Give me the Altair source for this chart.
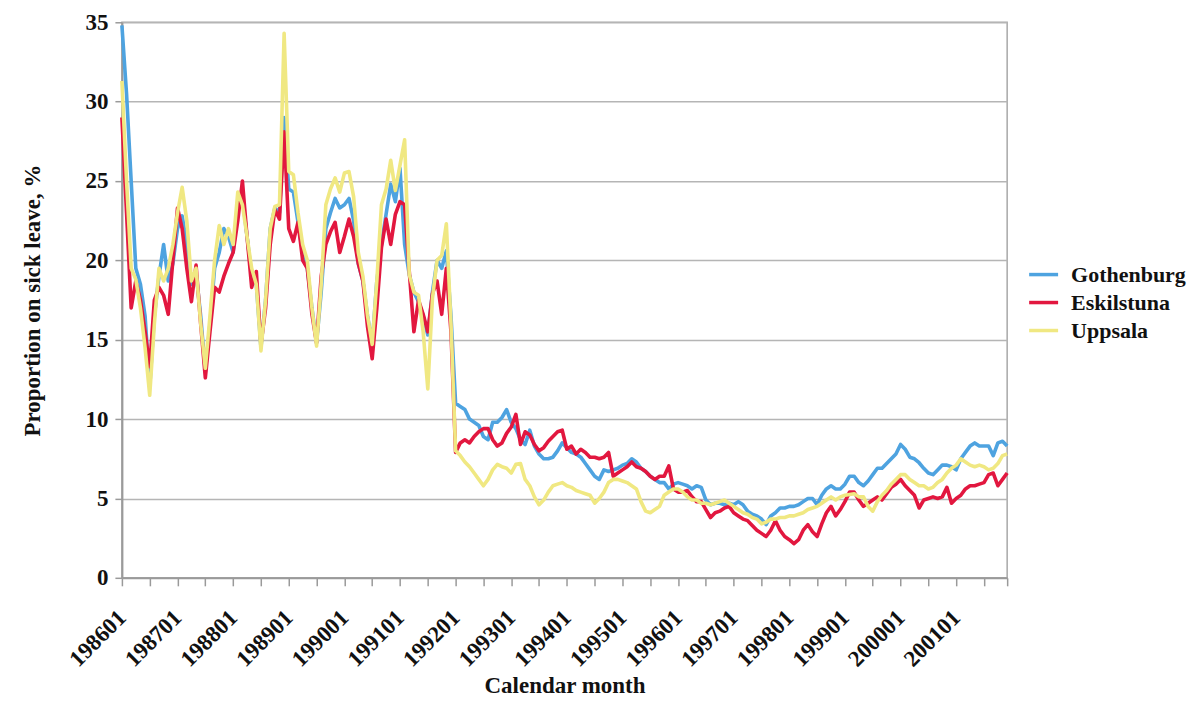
import altair as alt
import pandas as pd

# ---- data (monthly, 198601 .. 200112) ----
years = list(range(1986, 2002))
cities = ["Gothenburg", "Eskilstuna", "Uppsala"]
colors = ["#4ea3e0", "#e2173f", "#f0e882"]

gothenburg = [
    [34.8, 30.5, 25.0, 19.5, 18.5, 16.5, 12.0, 16.5, 19.0, 21.0, 18.7, 19.8],
    [22.0, 22.8, 21.0, 18.5, 19.2, 16.5, 13.0, 16.0, 19.5, 20.5, 22.0, 21.5],
    [20.5, 23.5, 24.0, 21.5, 19.0, 18.5, 14.5, 17.5, 22.0, 23.3, 23.0, 29.0],
    [24.5, 24.3, 22.4, 20.5, 19.5, 17.0, 14.8, 18.0, 22.0, 23.0, 23.9, 23.3],
    [23.5, 23.9, 22.5, 19.8, 18.7, 16.5, 14.7, 18.7, 21.0, 22.9, 24.8, 23.7],
    [25.8, 21.0, 19.1, 18.0, 17.4, 16.5, 15.3, 18.0, 20.0, 19.5, 20.6, 16.5],
    [11.0, 10.8, 10.6, 10.0, 9.8, 9.6, 8.9, 8.7, 9.8, 9.8, 10.1, 10.6],
    [9.8, 9.4, 8.7, 8.4, 9.3, 8.3, 7.8, 7.5, 7.5, 7.6, 8.0, 8.5],
    [8.2, 7.9, 7.8, 7.6, 7.2, 6.8, 6.4, 6.2, 6.8, 6.7, 6.8, 6.9],
    [7.1, 7.2, 7.5, 7.3, 6.9, 6.7, 6.4, 6.2, 6.0, 6.0, 5.6, 5.9],
    [6.0, 5.9, 5.8, 5.6, 5.8, 5.7, 4.9, 4.6, 4.7, 4.7, 4.6, 4.7],
    [4.6, 4.8, 4.6, 4.2, 4.0, 3.9, 3.7, 3.35, 3.9, 4.1, 4.4, 4.4],
    [4.5, 4.5, 4.6, 4.8, 5.0, 5.0, 4.6, 5.2, 5.6, 5.8, 5.6, 5.6],
    [5.9, 6.4, 6.4, 6.0, 5.8, 6.1, 6.5, 6.9, 6.9, 7.2, 7.5, 7.8],
    [8.4, 8.1, 7.6, 7.5, 7.25, 6.9, 6.6, 6.5, 6.8, 7.1, 7.1, 7.0],
    [6.8, 7.5, 7.9, 8.3, 8.5, 8.3, 8.3, 8.3, 7.7, 8.5, 8.6, 8.3],
]

eskilstuna = [
    [29.0, 23.0, 17.0, 18.7, 17.5, 15.5, 13.3, 17.5, 18.3, 17.8, 16.6, 20.0],
    [23.3, 22.0, 19.5, 17.4, 19.7, 16.0, 12.6, 15.5, 18.3, 18.0, 19.0, 19.8],
    [20.5, 22.5, 25.0, 21.5, 18.3, 19.3, 14.7, 17.0, 21.0, 23.2, 22.6, 28.1],
    [22.0, 21.2, 22.4, 20.0, 19.5, 16.6, 14.8, 19.0, 21.0, 21.8, 22.4, 20.5],
    [21.5, 22.6, 21.5, 19.8, 18.7, 15.8, 13.8, 17.0, 20.8, 22.6, 21.0, 22.9],
    [23.7, 23.5, 19.3, 15.5, 17.5, 16.6, 15.5, 17.9, 18.7, 16.6, 19.5, 15.5],
    [7.9, 8.5, 8.7, 8.5, 8.9, 9.2, 9.4, 9.4, 8.7, 8.3, 8.5, 9.1],
    [9.5, 10.3, 8.4, 9.2, 9.0, 8.4, 8.0, 8.2, 8.6, 8.9, 9.2, 9.3],
    [8.1, 8.3, 7.8, 8.1, 7.9, 7.6, 7.6, 7.5, 7.6, 7.9, 6.4, 6.6],
    [6.8, 7.0, 7.3, 7.0, 6.9, 6.7, 6.4, 6.2, 6.4, 6.4, 7.05, 5.6],
    [5.4, 5.4, 5.5, 5.1, 4.8, 4.8, 4.3, 3.8, 4.1, 4.2, 4.4, 4.5],
    [4.1, 3.9, 3.7, 3.6, 3.3, 3.0, 2.8, 2.6, 3.0, 3.6, 3.0, 2.6],
    [2.4, 2.15, 2.4, 3.0, 3.35, 2.9, 2.6, 3.4, 4.1, 4.5, 3.9, 4.3],
    [4.8, 5.4, 5.4, 4.9, 4.5, 4.7, 4.9, 5.1, 4.9, 5.3, 5.7, 5.9],
    [6.2, 5.8, 5.5, 5.2, 4.4, 4.9, 5.0, 5.1, 5.0, 5.1, 5.7, 4.7],
    [5.0, 5.2, 5.6, 5.8, 5.8, 5.9, 6.0, 6.5, 6.6, 5.8, 6.2, 6.6],
]

uppsala = [
    [31.3, 25.0, 19.5, 18.8, 17.0, 14.5, 11.5, 16.0, 19.5, 18.7, 19.5, 21.0],
    [23.0, 24.6, 22.5, 18.7, 19.5, 16.0, 13.2, 16.5, 20.0, 22.2, 21.0, 22.0],
    [21.0, 24.3, 23.5, 21.5, 19.5, 18.5, 14.3, 17.5, 22.0, 23.4, 23.5, 34.3],
    [25.6, 25.4, 23.0, 21.0, 20.0, 17.0, 14.6, 18.5, 23.5, 24.5, 25.2, 24.3],
    [25.5, 25.6, 24.0, 20.5, 19.0, 16.5, 14.7, 18.7, 23.5, 24.5, 26.3, 24.4],
    [26.0, 27.6, 19.1, 18.0, 17.8, 15.5, 11.9, 17.6, 20.0, 20.3, 22.3, 16.0],
    [8.0, 7.7, 7.3, 7.0, 6.6, 6.2, 5.8, 6.2, 6.8, 7.15, 7.0, 6.9],
    [6.6, 7.15, 7.2, 6.2, 5.8, 5.1, 4.6, 4.9, 5.4, 5.8, 5.9, 6.0],
    [5.8, 5.7, 5.5, 5.4, 5.3, 5.2, 4.7, 5.0, 5.4, 6.0, 6.2, 6.2],
    [6.1, 6.0, 5.8, 5.6, 4.8, 4.2, 4.1, 4.3, 4.5, 5.2, 5.4, 5.6],
    [5.6, 5.4, 5.1, 4.9, 4.9, 4.7, 4.7, 4.6, 4.7, 4.8, 4.9, 4.7],
    [4.5, 4.3, 4.1, 4.0, 3.8, 3.7, 3.4, 3.5, 3.7, 3.7, 3.8, 3.8],
    [3.9, 3.9, 4.0, 4.1, 4.3, 4.4, 4.5, 4.7, 4.9, 5.1, 4.9, 5.1],
    [5.2, 5.25, 5.3, 5.1, 5.1, 4.5, 4.2, 4.8, 5.2, 5.5, 5.9, 6.2],
    [6.5, 6.5, 6.2, 6.0, 5.8, 5.8, 5.6, 5.7, 6.0, 6.2, 6.6, 6.9],
    [7.1, 7.5, 7.3, 7.1, 7.0, 7.1, 7.0, 6.8, 6.9, 7.2, 7.7, 7.8],
]

year_labels = [f"{y}01" for y in years]
y_ticks = [0, 5, 10, 15, 20, 25, 30, 35]

# ---- build long table ----
rows = []
for city, table in zip(cities, [gothenburg, eskilstuna, uppsala]):
    idx = 0
    for yr, vals in zip(years, table):
        for mo, v in enumerate(vals):
            rows.append({"m": idx, "month": f"{yr}{mo + 1:02d}", "city": city, "value": v})
            idx += 1
df = pd.DataFrame(rows)

n_months = len(years) * 12
tick_vals = list(range(0, n_months, 6)) + [n_months - 1]
label_expr = (
    "datum.value % 12 == 0 ? "
    + "[" + ",".join(f"'{s}'" for s in year_labels) + "][datum.value / 12] : ''"
)

FONT = "Liberation Serif"

x_enc = alt.X(
    "m:Q",
    scale=alt.Scale(domain=[0, n_months - 1], nice=False, zero=False),
    axis=alt.Axis(
        values=tick_vals,
        labelExpr=label_expr,
        labelAngle=315,
        labelAlign="right",
        labelBaseline="middle",
        labelOverlap=False,
        labelPadding=28,
        labelFlush=False,
        grid=False,
        tickSize=8,
        title="Calendar month",
        titlePadding=4,
    ),
)
y_enc = alt.Y(
    "value:Q",
    scale=alt.Scale(domain=[0, 35], nice=False),
    axis=alt.Axis(
        values=y_ticks,
        grid=True,
        tickSize=7,
        labelPadding=7,
        title="Proportion on sick leave, %",
        titlePadding=40,
    ),
)
color_enc = alt.Color(
    "city:N",
    scale=alt.Scale(domain=cities, range=colors),
    legend=alt.Legend(
        title=None,
        orient="none",
        legendX=906,
        legendY=236,
        symbolType="stroke",
        symbolSize=840,
        symbolStrokeWidth=3.5,
        labelFont=FONT,
        labelFontSize=22,
        labelFontWeight="bold",
        labelColor="#111111",
        labelOffset=11,
        labelLimit=300,
        rowPadding=0,
    ),
)

base = alt.Chart(df).encode(x=x_enc, y=y_enc, color=color_enc, order="m:Q")
layers = [
    base.transform_filter(alt.datum.city == c).mark_line(strokeWidth=3.6, strokeJoin="round")
    for c in cities
]

chart = (
    alt.layer(*layers)
    .properties(
        width=886,
        height=556,
        autosize=alt.AutoSizeParams(type="none"),
        padding={"left": 114, "top": 14, "right": 185, "bottom": 126},
    )
    .configure_view(stroke="#a8a8a8", strokeWidth=1.5)
    .configure_axis(
        labelFont=FONT,
        labelFontSize=23,
        labelFontWeight="bold",
        labelColor="#111111",
        titleFont=FONT,
        titleFontSize=23,
        titleFontWeight="bold",
        titleColor="#111111",
        domainColor="#9a9a9a",
        domainWidth=2,
        tickColor="#9a9a9a",
        tickWidth=1.5,
        gridColor="#b5b5b5",
        gridWidth=1.5,
    )
)

chart.save("out.html", embed_options={"renderer": "svg", "actions": False})
